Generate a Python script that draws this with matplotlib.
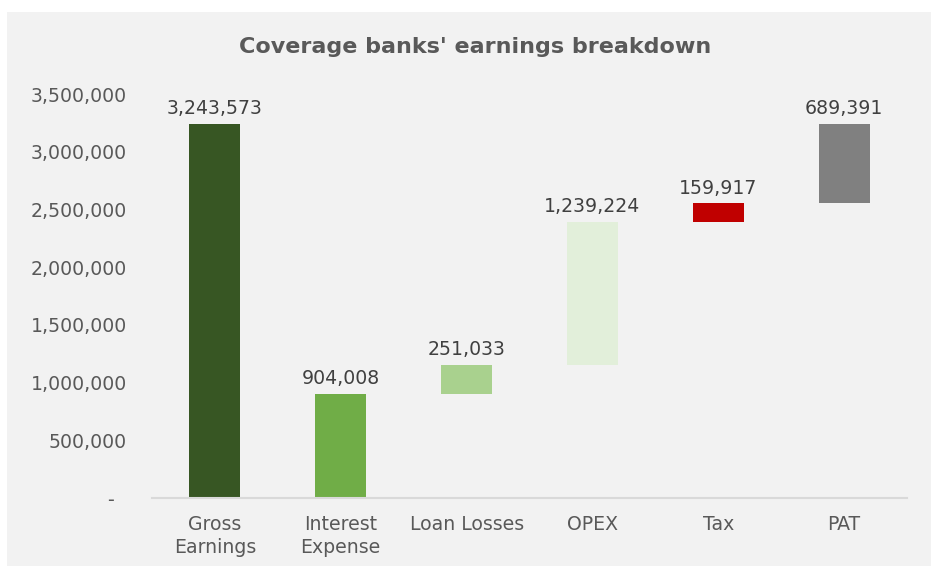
import numpy as np
import matplotlib.pyplot as plt
from matplotlib.patches import Rectangle
from matplotlib.ticker import FuncFormatter

categories = ['Gross\nEarnings', 'Interest\nExpense', 'Loan Losses', 'OPEX', 'Tax', 'PAT']
values = [3243573, 904008, 251033, 1239224, 159917, 689391]
colors = ['#375623', '#70AD47', '#A9D18E', '#E2EFDA', '#C00000', '#808080']

# waterfall: gross starts at zero, the deductions stack up from zero,
# PAT closes the gap back up to gross earnings
bottoms = [0] + list(np.cumsum([0] + values[1:-1]))

plt.rcParams['font.family'] = 'DejaVu Sans'

fig = plt.figure(figsize=(9.31, 5.66), dpi=100)
fig.patch.set_facecolor('white')
fig.patches.append(Rectangle((7 / 931, 0), 924 / 931, 554 / 566,
                             transform=fig.transFigure, facecolor='#F2F2F2',
                             edgecolor='none', zorder=-10))

ax = fig.add_axes([152 / 931, 68 / 566, 755 / 931, 404 / 566])
ax.set_facecolor('none')

x = np.arange(len(categories))
ax.bar(x, values, bottom=bottoms, width=0.405, color=colors, zorder=2)

for xi, v, b in zip(x, values, bottoms):
    ax.annotate(f'{v:,}', (xi, b + v), xytext=(0, 4), textcoords='offset points',
                ha='center', va='bottom', fontsize=13.6, color='#404040')

ax.set_xlim(-0.5, len(categories) - 0.5)
ax.set_ylim(0, 3500000)
ax.set_yticks(np.arange(0, 3500001, 500000))
ax.yaxis.set_major_formatter(FuncFormatter(lambda v, p: '-  ' if v == 0 else f'{int(v):,}'))
ax.set_xticks(x)
ax.set_xticklabels(categories, linespacing=1.3)

ax.tick_params(axis='both', length=0, labelsize=13.6, labelcolor='#595959')
ax.tick_params(axis='y', pad=18)
ax.tick_params(axis='x', pad=12)

for s in ['top', 'right', 'left']:
    ax.spines[s].set_visible(False)
ax.spines['bottom'].set_color('#D9D9D9')
ax.spines['bottom'].set_linewidth(1.5)

fig.text(475 / 931, 1 - 47 / 566, "Coverage banks' earnings breakdown",
         ha='center', va='center', fontsize=16, fontweight='bold', color='#595959')

fig.savefig('out.png', dpi=100, facecolor=fig.get_facecolor())
